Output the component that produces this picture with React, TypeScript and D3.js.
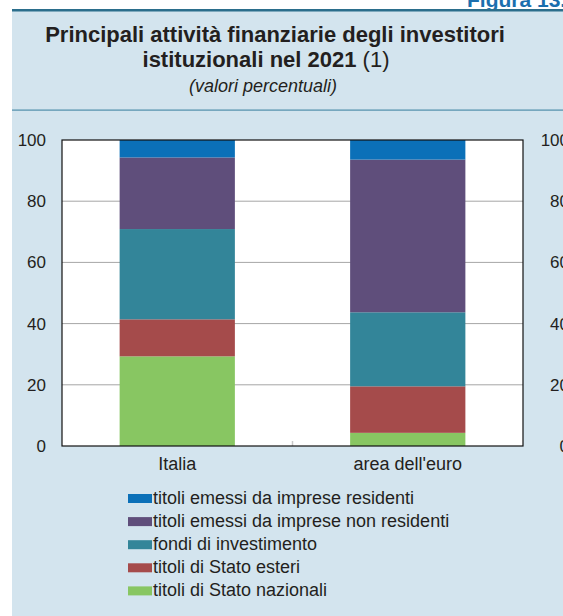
import React from "react";
import * as d3 from "d3";

// Categories and stacked series (percentage shares)
const categories = ["Italia", "area dell'euro"];
const seriesNames = [
  "titoli di Stato nazionali",
  "titoli di Stato esteri",
  "fondi di investimento",
  "titoli emessi da imprese non residenti",
  "titoli emessi da imprese residenti",
];
const seriesColors = ["#88c662", "#a54b4b", "#338599", "#5f4e7b", "#0b70b8"];
const italiaValues = [29.3, 12.1, 29.5, 23.4, 5.7];
const euroValues = [4.3, 15.2, 24.2, 49.9, 6.4];
const yTicks = [0, 20, 40, 60, 80, 100];

const W = 563;
const H = 616;
const FONT = "'Liberation Sans', Arial, Helvetica, sans-serif";
const INK = "#231f20";

const plot = { left: 62, right: 523, top: 140, bottom: 446 };

export default function App() {
  const x = d3
    .scaleBand<string>()
    .domain(categories)
    .range([plot.left, plot.right])
    .paddingInner(0.5)
    .paddingOuter(0.25);
  const y = d3.scaleLinear().domain([0, 100]).range([plot.bottom, plot.top]);

  const rows = categories.map((c, i) => {
    const vals = i === 0 ? italiaValues : euroValues;
    const r: Record<string, any> = { cat: c };
    seriesNames.forEach((s, k) => (r[s] = vals[k]));
    return r;
  });
  const stacked = d3.stack<any>().keys(seriesNames)(rows);

  const legendOrder = [...seriesNames].reverse();

  return (
    <svg
      width={W}
      height={H}
      style={{ position: "absolute", left: 0, top: 0, display: "block" }}
      fontFamily={FONT}
    >
      <rect x={0} y={0} width={W} height={H} fill="#ffffff" />
      <rect x={12} y={10} width={W - 12} height={H - 10} fill="#d3e4ee" />
      <text x={467} y={7} fontSize={21} fontWeight="bold" fill="#1b6fae">
        Figura 13.7
      </text>
      <rect x={12} y={9} width={W - 12} height={2.5} fill="#2b6e8c" />
      <rect x={12} y={109.5} width={W - 12} height={1.2} fill="#4f8daa" />

      <text x={275} y={42} textAnchor="middle" fontSize={22} fontWeight="bold" fill={INK}>
        Principali attività finanziarie degli investitori
      </text>
      <text x={266} y={67} textAnchor="middle" fontSize={22} fill={INK}>
        <tspan fontWeight="bold">istituzionali nel 2021</tspan> (1)
      </text>
      <text x={263} y={92} textAnchor="middle" fontSize={18} fontStyle="italic" fill={INK}>
        (valori percentuali)
      </text>

      <rect
        x={plot.left}
        y={plot.top}
        width={plot.right - plot.left}
        height={plot.bottom - plot.top}
        fill="#ffffff"
      />
      {yTicks
        .filter((t) => t > 0 && t < 100)
        .map((t) => (
          <line
            key={t}
            x1={plot.left}
            x2={plot.right}
            y1={y(t)}
            y2={y(t)}
            stroke="#a6a6a6"
            strokeWidth={1}
          />
        ))}
      {stacked.map((layer, k) => (
        <g key={layer.key} fill={seriesColors[k]}>
          {layer.map((d, i) => (
            <rect
              key={i}
              x={x(categories[i])}
              y={y(d[1])}
              width={x.bandwidth()}
              height={y(d[0]) - y(d[1])}
            />
          ))}
        </g>
      ))}
      <line
        x1={(plot.left + plot.right) / 2}
        x2={(plot.left + plot.right) / 2}
        y1={plot.bottom - 5}
        y2={plot.bottom}
        stroke="#c8c8c8"
        strokeWidth={1.5}
      />
      <rect
        x={plot.left}
        y={plot.top}
        width={plot.right - plot.left}
        height={plot.bottom - plot.top}
        fill="none"
        stroke="#111"
        strokeWidth={1.2}
      />

      {yTicks.map((t) => (
        <text key={"l" + t} x={46} y={y(t) + 6} textAnchor="end" fontSize={17} fill={INK}>
          {t}
        </text>
      ))}
      {yTicks.map((t) => (
        <text key={"r" + t} x={569} y={y(t) + 6} textAnchor="end" fontSize={17} fill={INK}>
          {t}
        </text>
      ))}
      {categories.map((c) => (
        <text
          key={c}
          x={(x(c) ?? 0) + x.bandwidth() / 2}
          y={470}
          textAnchor="middle"
          fontSize={18}
          fill={INK}
        >
          {c}
        </text>
      ))}

      {legendOrder.map((s, i) => {
        const k = seriesNames.indexOf(s);
        const cy = 498.5 + i * 23.1;
        return (
          <g key={s}>
            <rect x={128} y={cy - 4.5} width={24} height={9} fill={seriesColors[k]} />
            <text x={153} y={cy + 5.5} fontSize={18} fill={INK}>
              {s}
            </text>
          </g>
        );
      })}
    </svg>
  );
}
